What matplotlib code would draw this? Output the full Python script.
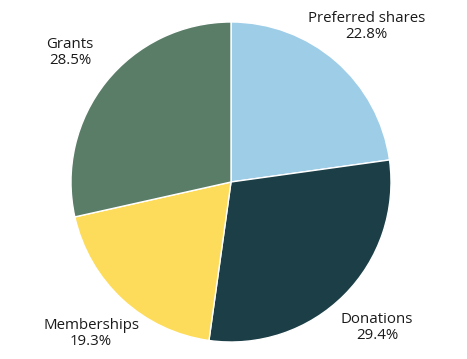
import matplotlib
matplotlib.use("Agg")
import matplotlib.pyplot as plt

categories = ["Preferred shares", "Donations", "Memberships", "Grants"]
values = [22.8, 29.4, 19.3, 28.5]
colors = ["#9ecde8", "#1c3f47", "#fddc5c", "#5a7d68"]

W, H = 467, 359
fig = plt.figure(figsize=(W / 100, H / 100), dpi=100)
cx, cy, r = 231, 182, 160
ax = fig.add_axes([(cx - r) / W, (H - cy - r) / H, 2 * r / W, 2 * r / H])

labels = [f"{c}\n{v:.1f}%" for c, v in zip(categories, values)]
wedges, texts = ax.pie(values, labels=labels, colors=colors, startangle=90,
                       counterclock=False, labeldistance=1.29, radius=1.0,
                       wedgeprops=dict(linewidth=1.0, edgecolor="white"),
                       textprops=dict(fontsize=10.8, family="Open Sans", color="#1a1a1a",
                                      linespacing=1.1))
for t in texts:
    t.set_ha("center")
    t.set_va("center")
ax.set_xlim(-1, 1)
ax.set_ylim(-1, 1)
ax.set_aspect("equal")
fig.savefig("out.png", dpi=100)
